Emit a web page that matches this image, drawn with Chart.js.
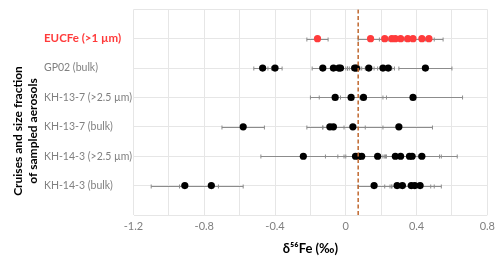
<!DOCTYPE html>
<html>
<head>
<meta charset="utf-8">
<script src="https://cdn.jsdelivr.net/npm/chart.js@4.4.0/dist/chart.umd.min.js"></script>
<style>
  body { margin: 0; background: #fff; }
  #wrap { width: 500px; height: 257px; }
</style>
</head>
<body>
<div id="wrap"><canvas id="myChart"></canvas></div>
<script>
// rows top to bottom
const categories = ['EUCFe (>1 µm)', 'GP02 (bulk)', 'KH-13-7 (>2.5 µm)', 'KH-13-7 (bulk)', 'KH-14-3 (>2.5 µm)', 'KH-14-3 (bulk)'];

const eucfe = [-0.16, 0.14, 0.22, 0.26, 0.28, 0.31, 0.35, 0.38, 0.43, 0.47];
const eucfeErr = [0.06, 0.07, 0.07, 0.07, 0.07, 0.07, 0.07, 0.07, 0.07, 0.08];

const gp02 = [-0.47, -0.40, -0.13, -0.07, -0.04, -0.03, 0.05, 0.06, 0.13, 0.21, 0.24, 0.45];
const gp02Err = [0.05, 0.04, 0.06, 0.05, 0.04, 0.05, 0.04, 0.05, 0.05, 0.05, 0.035, 0.15];

const kh137Coarse = [-0.06, 0.03, 0.10, 0.38];
const kh137CoarseErr = [0.14, 0.18, 0.13, 0.28];

const kh137Bulk = [-0.58, -0.09, -0.07, 0.04, 0.30];
const kh137BulkErr = [0.12, 0.13, 0.06, 0.17, 0.19];

const kh143Coarse = [-0.24, 0.055, 0.075, 0.09, 0.18, 0.28, 0.31, 0.36, 0.375, 0.43];
const kh143CoarseErr = [0.24, 0.17, 0.12, 0.1, 0.1, 0.1, 0.1, 0.18, 0.155, 0.2];

const kh143Bulk = [-0.91, -0.76, 0.16, 0.29, 0.32, 0.37, 0.39, 0.42];
const kh143BulkErr = [0.19, 0.18, 0.09, 0.07, 0.06, 0.11, 0.11, 0.12];

const crustal = 0.07;
const xMin = -1.2, xMax = 0.8, xStep = 0.2;

const rowValues = [eucfe, gp02, kh137Coarse, kh137Bulk, kh143Coarse, kh143Bulk];
const rowErrors = [eucfeErr, gp02Err, kh137CoarseErr, kh137BulkErr, kh143CoarseErr, kh143BulkErr];

const RED = '#ff3b3b';
const FONT = 'Lato';

const datasets = rowValues.map((vals, i) => ({
  type: 'scatter',
  label: categories[i],
  data: vals.map(v => ({x: v, y: categories.length - i})),
  errors: rowErrors[i],
  backgroundColor: i === 0 ? RED : '#000',
  borderWidth: 0,
  pointRadius: 3.6,
  order: 1
}));

datasets.push({
  type: 'line',
  label: 'crustal',
  data: [{x: crustal, y: 0}, {x: crustal, y: categories.length + 1}],
  borderColor: '#c0672e',
  borderWidth: 1.5,
  borderDash: [4, 2.5],
  pointRadius: 0,
  order: 0
});

// horizontal error bars with caps, drawn below the points
const errorBars = {
  id: 'errorBars',
  beforeDatasetsDraw(chart) {
    const {ctx, scales: {x, y}} = chart;
    ctx.save();
    ctx.strokeStyle = '#8c8c8c';
    ctx.lineWidth = 1;
    chart.data.datasets.forEach(ds => {
      if (!ds.errors) return;
      ds.data.forEach((p, i) => {
        const py = Math.round(y.getPixelForValue(p.y)) + 0.5;
        const x0 = x.getPixelForValue(p.x - ds.errors[i]);
        const x1 = x.getPixelForValue(p.x + ds.errors[i]);
        ctx.beginPath();
        ctx.moveTo(x0, py); ctx.lineTo(x1, py);
        ctx.moveTo(x0, py - 2); ctx.lineTo(x0, py + 2);
        ctx.moveTo(x1, py - 2); ctx.lineTo(x1, py + 2);
        ctx.stroke();
      });
    });
    ctx.restore();
  }
};

const ctx = document.getElementById('myChart');
new Chart(ctx, {
  data: { datasets: datasets },
  plugins: [errorBars],
  options: {
    responsive: true,
    maintainAspectRatio: false,
    animation: false,
    layout: { padding: { left: 0, top: 5, right: 12, bottom: 0 } },
    plugins: {
      legend: { display: false },
      tooltip: { enabled: false },
      title: {
        display: true,
        position: 'left',
        text: ['Cruises and size fraction', 'of sampled aerosols'],
        color: '#000',
        font: { family: FONT, size: 12, weight: 'bold', lineHeight: 1.25 },
        padding: { top: 10.5, bottom: 3.5 }
      }
    },
    scales: {
      x: {
        type: 'linear',
        min: xMin,
        max: xMax,
        afterFit(scale) { scale.height = 42; },
        ticks: {
          stepSize: xStep,
          color: '#808080',
          padding: 5,
          font: { family: FONT, size: 11 },
          callback: (v, i) => i % 2 === 0 ? String(Math.round(v * 10) / 10) : ''
        },
        grid: { color: '#e6e6e6', drawTicks: false },
        border: { display: false },
        title: {
          display: true,
          text: 'δ⁵⁶Fe (‰)',
          color: '#000',
          font: { family: FONT, size: 13, weight: 'bold' },
          padding: { top: 9, bottom: 0 }
        }
      },
      y: {
        type: 'linear',
        min: 0,
        max: categories.length + 1,
        afterFit(scale) { scale.width = 89.5; },
        ticks: {
          stepSize: 1,
          crossAlign: 'far',
          color: c => c.tick && c.tick.value === categories.length ? RED : '#808080',
          font: c => (c.tick && c.tick.value === categories.length)
            ? { family: FONT, size: 11.5, weight: 'bold' }
            : { family: FONT, size: 10.5, weight: 'normal' },
          callback: v => (v >= 1 && v <= categories.length) ? categories[categories.length - v] : ''
        },
        grid: { color: '#e6e6e6', drawTicks: false },
        border: { display: false }
      }
    }
  }
});
</script>
</body>
</html>
